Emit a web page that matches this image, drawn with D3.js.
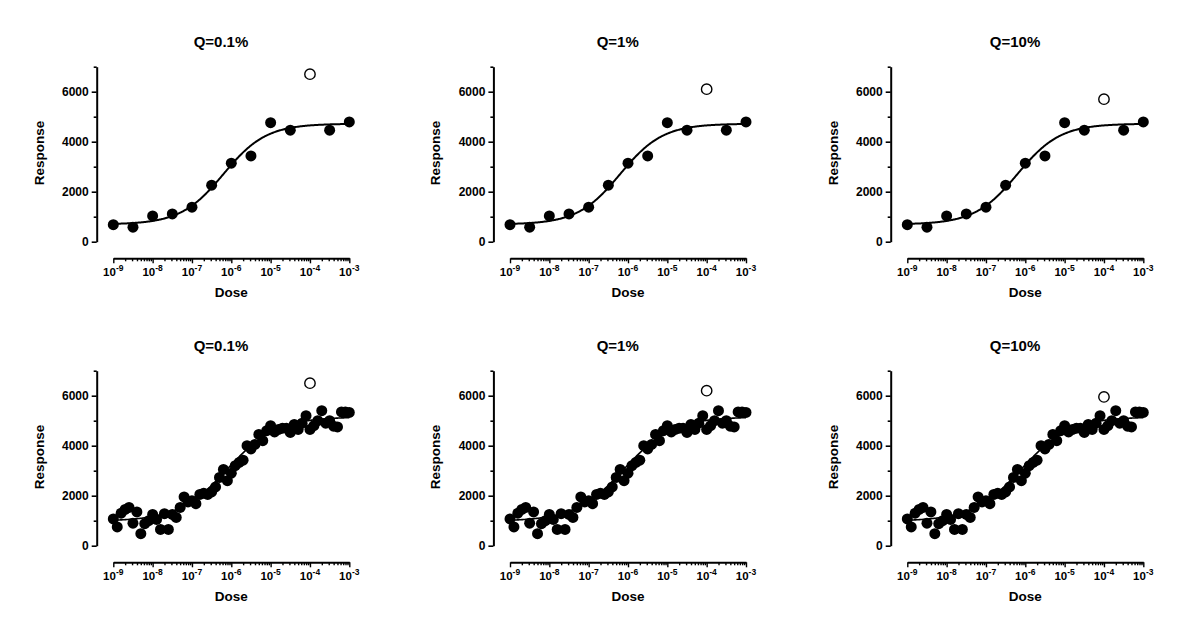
<!DOCTYPE html>
<html>
<head>
<meta charset="utf-8">
<script src="https://cdn.jsdelivr.net/npm/d3@7"></script>
<style>
  html, body { margin: 0; padding: 0; background: #fff; }
  svg text { font-family: "Liberation Sans", Arial, Helvetica, sans-serif; font-weight: bold; fill: #000; }
</style>
</head>
<body>
<svg id="chart" width="1200" height="633"></svg>
<script>
// ---------- data ----------
const titles = ["Q=0.1%", "Q=1%", "Q=10%"];
const yMajorTicks = [0, 2000, 4000, 6000];
const yMinorTicks = [1000, 3000, 5000, 7000];
const xDecadeExps = [-9, -8, -7, -6, -5, -4, -3];

// top row (13 doses, half-log spacing)
const topDoseExp = [-9, -8.5, -8, -7.5, -7, -6.5, -6, -5.5, -5, -4.5, -4, -3.5, -3];
const topResponse = [680, 580, 1030, 1110, 1380, 2260, 3140, 3430, 4760, 4460, null, 4460, 4790];
const topOutlierDoseExp = -4;
const topOutlier = [6700, 6100, 5700];
// fitted curve params: bottom, top, logEC50, hill
const topFit = [690, 4720, -6.2, 0.8];

// bottom row (61 doses, 0.1-log spacing)
const bottomDoseExp = [-9.0, -8.9, -8.8, -8.7, -8.6, -8.5, -8.4, -8.3, -8.2, -8.1,
  -8.0, -7.9, -7.8, -7.7, -7.6, -7.5, -7.4, -7.3, -7.2, -7.1,
  -7.0, -6.9, -6.8, -6.7, -6.6, -6.5, -6.4, -6.3, -6.2, -6.1,
  -6.0, -5.9, -5.8, -5.7, -5.6, -5.5, -5.4, -5.3, -5.2, -5.1,
  -5.0, -4.9, -4.8, -4.7, -4.6, -4.5, -4.4, -4.3, -4.2, -4.1,
  -4.0, -3.9, -3.8, -3.7, -3.6, -3.5, -3.4, -3.3, -3.2, -3.1, -3.0];
const bottomResponse = [1070, 750, 1300, 1450, 1530, 900, 1350, 480, 880, 1000,
  1250, 1050, 650, 1280, 650, 1250, 1130, 1530, 1950, 1750,
  1800, 1680, 2050, 2100, 2050, 2150, 2350, 2730, 3050, 2600,
  2900, 3200, 3330, 3420, 4000, 3870, 4050, 4450, 4200, 4600,
  4800, 4550, 4650, 4700, 4700, 4530, 4850, 4650, 4900, 5200,
  4650, 4800, 5000, 5400, 4900, 5000, 4780, 4750, 5350, 5350, 5330];
const bottomOutlierDoseExp = -4;
const bottomOutlier = [6500, 6200, 5950];
const bottomFit = [980, 5150, -6.1, 0.7];

// ---------- layout ----------
const svg = d3.select("#chart");
const colOffsets = [0, 396.7, 794];
const rowOffsets = [0, 304];

function logistic(p, lx) {
  const [b, t, ec, h] = p;
  return b + (t - b) / (1 + Math.pow(10, (ec - lx) * h));
}

function drawPanel(ci, ri) {
  const cx = colOffsets[ci], ry = rowOffsets[ri];
  const yAxisX = 96.7 + cx;
  const xL = 113.3 + cx, xR = 349.3 + cx;
  const yTop = 66.7 + ry, yBot = 241.7 + ry;
  const xAxisY = 258.3 + ry;

  const x = d3.scaleLog().domain([1e-9, 1e-3]).range([xL, xR]);
  const y = d3.scaleLinear().domain([0, 7000]).range([yBot, yTop]);

  const g = svg.append("g");

  // title
  g.append("text").attr("x", 221 + cx).attr("y", 47 + ry)
    .attr("text-anchor", "middle").style("font-size", "15px").text(titles[ci]);

  // y axis
  const yAx = g.append("g").attr("transform", `translate(${yAxisX},0)`);
  yAx.call(d3.axisLeft(y).tickValues(yMajorTicks).tickSize(5).tickSizeOuter(0).tickPadding(3)
    .tickFormat(d3.format("d")));
  yAx.append("g").call(d3.axisLeft(y).tickValues(yMinorTicks).tickSize(3).tickSizeOuter(0).tickFormat(""))
    .select(".domain").remove();
  yAx.selectAll(".domain").attr("stroke", "#000").attr("stroke-width", 2);
  yAx.selectAll(".tick line").attr("stroke", "#000").attr("stroke-width", 1.6);
  yAx.selectAll(".tick text").style("font-size", "12px").attr("fill", "#000")
    .style("font-family", '"Liberation Sans", Arial, sans-serif').style("font-weight", "bold");

  // y label
  g.append("text").attr("transform", `translate(${43.5 + cx},${153 + ry}) rotate(-90)`)
    .attr("text-anchor", "middle").style("font-size", "13.5px").text("Response");

  // x axis
  const decades = xDecadeExps.map(e => Math.pow(10, e));
  const minors = [];
  xDecadeExps.slice(0, -1).forEach(e => { for (let k = 2; k <= 9; k++) minors.push(k * Math.pow(10, e)); });
  const xAx = g.append("g").attr("transform", `translate(0,${xAxisY})`);
  xAx.call(d3.axisBottom(x).tickValues(decades).tickSize(5).tickSizeOuter(0).tickFormat(""));
  xAx.append("g").call(d3.axisBottom(x).tickValues(minors).tickSize(3).tickSizeOuter(0).tickFormat(""))
    .select(".domain").remove();
  xAx.selectAll(".domain").attr("stroke", "#000").attr("stroke-width", 2);
  xAx.selectAll(".tick line").attr("stroke", "#000").attr("stroke-width", 1.4);

  xDecadeExps.forEach(e => {
    const t = g.append("text").attr("x", x(Math.pow(10, e))).attr("y", xAxisY + 17.5)
      .attr("text-anchor", "middle").style("font-size", "11.5px");
    t.append("tspan").text("10");
    t.append("tspan").attr("dy", -5).style("font-size", "8.5px").text(String(e));
  });

  // x label
  g.append("text").attr("x", (xL + xR) / 2).attr("y", 296.5 + ry)
    .attr("text-anchor", "middle").style("font-size", "13.5px").text("Dose");

  // curve
  const fit = ri === 0 ? topFit : bottomFit;
  const lxs = d3.range(-9, -3 + 1e-9, 0.02);
  const line = d3.line().x(d => x(Math.pow(10, d))).y(d => y(logistic(fit, d)));
  g.append("path").datum(lxs).attr("d", line).attr("fill", "none")
    .attr("stroke", "#000").attr("stroke-width", ri === 0 ? 2 : 1.6);

  // points
  const doses = ri === 0 ? topDoseExp : bottomDoseExp;
  const resp = ri === 0 ? topResponse : bottomResponse;
  const pts = doses.map((d, i) => ({ d, v: resp[i] })).filter(p => p.v !== null);
  g.selectAll("circle.pt").data(pts).enter().append("circle")
    .attr("class", "pt")
    .attr("cx", p => x(Math.pow(10, p.d))).attr("cy", p => y(p.v))
    .attr("r", 5.5).attr("fill", "#000");

  // outlier (open circle)
  const oDose = ri === 0 ? topOutlierDoseExp : bottomOutlierDoseExp;
  const oVal = ri === 0 ? topOutlier[ci] : bottomOutlier[ci];
  g.append("circle").attr("cx", x(Math.pow(10, oDose))).attr("cy", y(oVal))
    .attr("r", 5.2).attr("fill", "#fff").attr("stroke", "#000").attr("stroke-width", 1.4);
}

for (let r = 0; r < 2; r++) for (let c = 0; c < 3; c++) drawPanel(c, r);
</script>
</body>
</html>
